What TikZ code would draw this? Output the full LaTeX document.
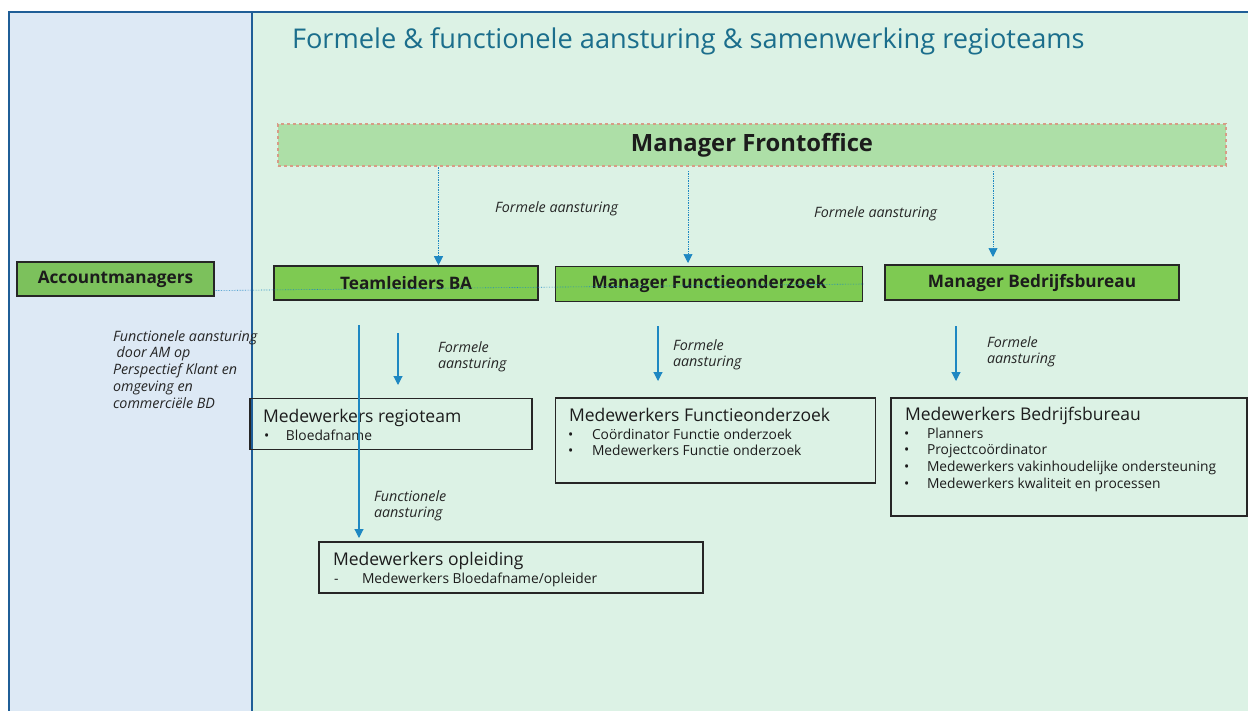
\documentclass[tikz,border=0pt]{standalone}
\usepackage{fontspec}
\setmainfont{Open Sans}
\usetikzlibrary{arrows.meta,calc}
\definecolor{bluepanel}{HTML}{DDE9F5}
\definecolor{greenpanel}{HTML}{DCF2E5}
\definecolor{panelline}{HTML}{1F5E97}
\definecolor{titleteal}{HTML}{1B6E8C}
\definecolor{fofill}{HTML}{ADDFA7}
\definecolor{fodash}{HTML}{D79C86}
\definecolor{boxgreen}{HTML}{7ECA52}
\definecolor{amgreen}{HTML}{7CC15C}
\definecolor{arrowblue}{HTML}{1E88C2}
\definecolor{textdark}{HTML}{1C1C1C}
\begin{document}
\begin{tikzpicture}[x=1pt,y=-1pt,
  greenbox/.style={draw=black!85, line width=1.6pt, fill=boxgreen, inner sep=0, text=textdark, font=\bfseries\fontsize{17.2}{20}\selectfont},
  mwbox/.style={draw=black!85, line width=1.4pt, inner sep=0},
  txt/.style={anchor=base west, inner sep=0, outer sep=0, text=textdark},
  boxtitle/.style={txt, font=\fontsize{17.5}{20}\selectfont},
  bullets/.style={txt, font=\fontsize{13.8}{16.7}\selectfont},
  lbl/.style={txt, text=black!85, font=\itshape\fontsize{14.3}{16.75}\selectfont},
  dotarrow/.style={draw=arrowblue, line width=0.7pt, densely dotted, -{Triangle[width=9pt,length=9pt]}},
  solidarrow/.style={draw=arrowblue, line width=1.1pt, -{Triangle[width=9pt,length=9pt]}},
]
\useasboundingbox (0,0) rectangle (1248,710);
\fill[white] (0,0) rectangle (1248,710);
% panels
\draw[fill=bluepanel, draw=panelline, line width=1.5pt] (9,12) rectangle (252,725);
\draw[fill=greenpanel, draw=panelline, line width=1.5pt] (252,12) rectangle (1265,725);
\draw[panelline, line width=2.5pt] (252,12) -- (252,725);
% title
\node[txt, text=titleteal, font=\fontsize{27.2}{30}\selectfont] (title) at (292,48) {Formele \& functionele aansturing \& samenwerking regioteams};
% manager frontoffice
\node[draw=fodash, dashed, line width=1.2pt, fill=fofill, minimum width=948, minimum height=42, inner sep=0, text=textdark, font=\bfseries\fontsize{23.8}{26}\selectfont] (fo) at (752,145) {Manager Frontoffice};
% second row
\node[greenbox, minimum width=264, minimum height=34] (tl) at (406,283) {Teamleiders BA};
\node[greenbox, minimum width=307, minimum height=35] (mf) at (709,284) {Manager Functieonderzoek};
\node[greenbox, minimum width=294, minimum height=35] (mb) at (1032,282.5) {Manager Bedrijfsbureau};
\node[greenbox, fill=amgreen, minimum width=197, minimum height=34] (am) at (115.5,279) {Accountmanagers};
% employee boxes
\node[mwbox, minimum width=282, minimum height=51] (mr) at (391,424) {};
\node[mwbox, minimum width=320, minimum height=85] (mfo) at (715.5,440.5) {};
\node[mwbox, minimum width=356, minimum height=118] (mbb) at (1069,457) {};
\node[mwbox, minimum width=384, minimum height=51] (mo) at (511,567.5) {};
% employee box texts
\node[boxtitle] (mrt) at (263,422) {Medewerkers regioteam};
\node[bullets] (mrb) at (264,440) {\makebox[22pt][l]{•}Bloedafname};
\node[boxtitle] (mfot) at (569,421) {Medewerkers Functieonderzoek};
\node[bullets] (mfob) at (568,439) {\begin{tabular}[t]{@{}l@{}}
\makebox[24pt][l]{•}Coördinator Functie onderzoek\\
\makebox[24pt][l]{•}Medewerkers Functie onderzoek\end{tabular}};
\node[boxtitle] (mbbt) at (905,420) {Medewerkers Bedrijfsbureau};
\node[bullets] (mbbb) at (904,438) {\begin{tabular}[t]{@{}l@{}}
\makebox[23pt][l]{•}Planners\\
\makebox[23pt][l]{•}Projectcoördinator\\
\makebox[23pt][l]{•}Medewerkers vakinhoudelijke ondersteuning\\
\makebox[23pt][l]{•}Medewerkers kwaliteit en processen\end{tabular}};
\node[boxtitle] (mot) at (333,565) {Medewerkers opleiding};
\node[bullets] (mob) at (334,583) {\makebox[28pt][l]{-}Medewerkers Bloedafname/opleider};
% labels
\node[lbl] (l1) at (495,212) {Formele aansturing};
\node[lbl] (l2) at (814,217) {Formele aansturing};
\node[lbl] (l3) at (438,352) {\begin{tabular}[t]{@{}l@{}}Formele\\aansturing\end{tabular}};
\node[lbl] (l4) at (673,350) {\begin{tabular}[t]{@{}l@{}}Formele\\aansturing\end{tabular}};
\node[lbl] (l5) at (987,347) {\begin{tabular}[t]{@{}l@{}}Formele\\aansturing\end{tabular}};
\node[lbl] (l6) at (374,501) {\begin{tabular}[t]{@{}l@{}}Functionele\\aansturing\end{tabular}};
\node[lbl] (l7) at (113,341) {\begin{tabular}[t]{@{}l@{}}Functionele aansturing\\\ door AM op\\Perspectief Klant en\\omgeving en\\commerciële BD\end{tabular}};
% dotted arrows from frontoffice
\draw[dotarrow] (fo.south -| 438.5,0) -- (tl.north -| 438.5,0);
\draw[dotarrow] (688,171) -- (688,263);
\draw[dotarrow] (993,171) -- (993,257);
% solid arrows
\coordinate (s1) at (398,333);
\coordinate (e1) at (398,385);
\coordinate (s2) at (658,326);
\coordinate (e2) at (658,381);
\coordinate (s3) at (956,326);
\coordinate (e3) at (956,381);
\coordinate (s4) at (359,325);
\coordinate (e4) at (359,538);
\draw[solidarrow] (s1) -- (e1);
\draw[solidarrow] (s2) -- (e2);
\draw[solidarrow] (s3) -- (e3);
\draw[solidarrow] (s4) -- (e4);
% accountmanagers line
\draw[arrowblue, line width=0.6pt, densely dotted] (am.east |- 0,290.5) -- (mf.east |- 0,284);
\end{tikzpicture}
\end{document}
